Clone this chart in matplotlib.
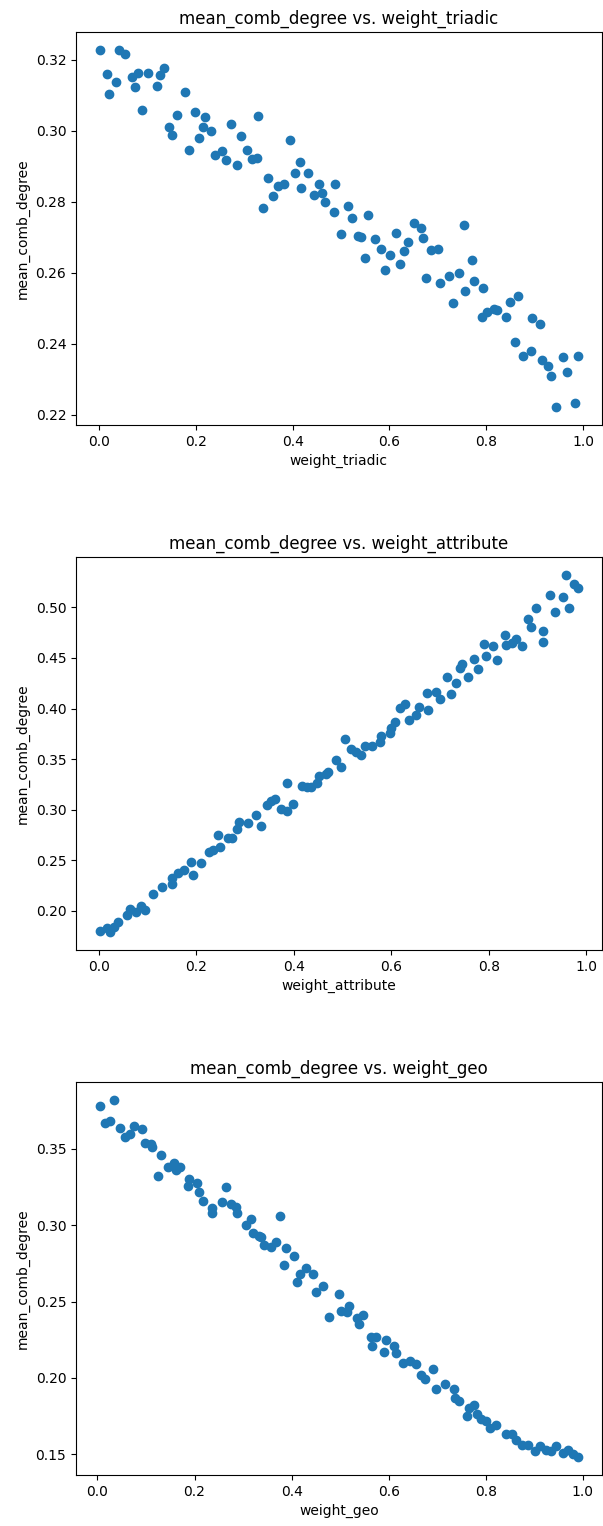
import matplotlib
matplotlib.use("Agg")
import matplotlib.pyplot as plt

# sweep results: mean combined degree against each weight parameter
weight_triadic = [
    0.002, 0.016, 0.020, 0.035, 0.042, 0.054, 0.068, 0.074, 0.081, 0.090,
    0.102, 0.119, 0.126, 0.134, 0.145, 0.150, 0.161, 0.177, 0.186, 0.198,
    0.206, 0.214, 0.220, 0.231, 0.239, 0.255, 0.262, 0.272, 0.286, 0.294,
    0.305, 0.316, 0.327, 0.328, 0.338, 0.349, 0.360, 0.369, 0.383, 0.395,
    0.404, 0.415, 0.417, 0.432, 0.445, 0.455, 0.460, 0.467, 0.487, 0.486,
    0.500, 0.515, 0.523, 0.535, 0.542, 0.550, 0.556, 0.570, 0.583, 0.590,
    0.602, 0.614, 0.621, 0.629, 0.638, 0.650, 0.665, 0.669, 0.676, 0.686,
    0.701, 0.704, 0.722, 0.731, 0.744, 0.753, 0.755, 0.770, 0.775, 0.794,
    0.792, 0.801, 0.815, 0.822, 0.840, 0.848, 0.866, 0.860, 0.876, 0.892,
    0.895, 0.911, 0.914, 0.928, 0.934, 0.943, 0.958, 0.967, 0.982, 0.989,
]
degree_triadic = [
    0.3228, 0.3160, 0.3104, 0.3138, 0.3228, 0.3216, 0.3153, 0.3124, 0.3164, 0.3059,
    0.3164, 0.3127, 0.3157, 0.3178, 0.3012, 0.2989, 0.3045, 0.3108, 0.2947, 0.3052,
    0.2981, 0.3012, 0.3040, 0.3000, 0.2932, 0.2944, 0.2919, 0.3019, 0.2905, 0.2984,
    0.2947, 0.2921, 0.2924, 0.3042, 0.2782, 0.2866, 0.2815, 0.2844, 0.2850, 0.2974,
    0.2880, 0.2913, 0.2839, 0.2880, 0.2819, 0.2851, 0.2824, 0.2800, 0.2851, 0.2770,
    0.2710, 0.2787, 0.2755, 0.2703, 0.2700, 0.2642, 0.2764, 0.2696, 0.2668, 0.2608,
    0.2651, 0.2713, 0.2625, 0.2660, 0.2686, 0.2741, 0.2727, 0.2698, 0.2585, 0.2663,
    0.2666, 0.2572, 0.2590, 0.2516, 0.2599, 0.2734, 0.2550, 0.2635, 0.2578, 0.2558,
    0.2475, 0.2489, 0.2497, 0.2494, 0.2475, 0.2517, 0.2534, 0.2405, 0.2365, 0.2381,
    0.2473, 0.2455, 0.2353, 0.2337, 0.2308, 0.2222, 0.2363, 0.2320, 0.2233, 0.2365,
]

weight_attribute = [
    0.002, 0.016, 0.022, 0.031, 0.039, 0.057, 0.063, 0.076, 0.086, 0.094,
    0.110, 0.129, 0.149, 0.150, 0.162, 0.174, 0.188, 0.194, 0.210, 0.226,
    0.234, 0.249, 0.245, 0.264, 0.273, 0.284, 0.287, 0.305, 0.322, 0.333,
    0.345, 0.353, 0.362, 0.374, 0.387, 0.385, 0.399, 0.416, 0.427, 0.436,
    0.448, 0.452, 0.467, 0.470, 0.486, 0.496, 0.505, 0.518, 0.528, 0.538,
    0.547, 0.560, 0.576, 0.579, 0.597, 0.600, 0.608, 0.617, 0.628, 0.636,
    0.651, 0.656, 0.675, 0.673, 0.692, 0.700, 0.714, 0.723, 0.733, 0.742,
    0.746, 0.758, 0.769, 0.779, 0.791, 0.794, 0.809, 0.816, 0.833, 0.835,
    0.847, 0.857, 0.868, 0.881, 0.886, 0.896, 0.912, 0.911, 0.926, 0.935,
    0.952, 0.958, 0.965, 0.976, 0.983,
]
degree_attribute = [
    0.180, 0.183, 0.179, 0.184, 0.189, 0.196, 0.202, 0.199, 0.205, 0.201,
    0.217, 0.224, 0.227, 0.232, 0.237, 0.240, 0.248, 0.235, 0.247, 0.258,
    0.260, 0.263, 0.275, 0.272, 0.272, 0.281, 0.288, 0.287, 0.295, 0.284,
    0.305, 0.309, 0.311, 0.301, 0.299, 0.326, 0.306, 0.323, 0.322, 0.322,
    0.326, 0.333, 0.335, 0.337, 0.349, 0.342, 0.370, 0.360, 0.357, 0.354,
    0.363, 0.363, 0.367, 0.373, 0.376, 0.381, 0.387, 0.401, 0.404, 0.389,
    0.394, 0.402, 0.399, 0.415, 0.416, 0.409, 0.431, 0.414, 0.425, 0.440,
    0.444, 0.431, 0.449, 0.439, 0.464, 0.452, 0.462, 0.448, 0.473, 0.463,
    0.465, 0.469, 0.462, 0.489, 0.481, 0.499, 0.477, 0.466, 0.512, 0.495,
    0.510, 0.532, 0.499, 0.523, 0.519,
]

weight_geo = [
    0.005, 0.015, 0.026, 0.035, 0.047, 0.056, 0.068, 0.076, 0.092, 0.098,
    0.110, 0.112, 0.125, 0.131, 0.145, 0.157, 0.162, 0.171, 0.187, 0.189,
    0.206, 0.210, 0.218, 0.236, 0.237, 0.257, 0.264, 0.276, 0.285, 0.288,
    0.306, 0.317, 0.320, 0.333, 0.337, 0.344, 0.357, 0.367, 0.377, 0.384,
    0.388, 0.404, 0.411, 0.418, 0.429, 0.445, 0.451, 0.464, 0.477, 0.497,
    0.501, 0.514, 0.518, 0.535, 0.538, 0.548, 0.563, 0.566, 0.575, 0.591,
    0.595, 0.611, 0.615, 0.630, 0.644, 0.657, 0.667, 0.674, 0.691, 0.697,
    0.716, 0.734, 0.737, 0.744, 0.761, 0.766, 0.775, 0.783, 0.790, 0.801,
    0.809, 0.822, 0.841, 0.855, 0.862, 0.874, 0.887, 0.901, 0.911, 0.924,
    0.935, 0.945, 0.959, 0.969, 0.980, 0.990,
]
degree_geo = [
    0.378, 0.367, 0.368, 0.382, 0.364, 0.358, 0.360, 0.365, 0.363, 0.354,
    0.353, 0.351, 0.332, 0.346, 0.338, 0.341, 0.336, 0.338, 0.326, 0.330,
    0.328, 0.322, 0.316, 0.308, 0.311, 0.315, 0.325, 0.314, 0.312, 0.308,
    0.300, 0.304, 0.295, 0.293, 0.292, 0.287, 0.286, 0.289, 0.306, 0.274,
    0.285, 0.280, 0.263, 0.268, 0.272, 0.268, 0.256, 0.260, 0.240, 0.255,
    0.244, 0.243, 0.247, 0.239, 0.235, 0.241, 0.227, 0.221, 0.227, 0.217,
    0.225, 0.221, 0.216, 0.210, 0.211, 0.209, 0.202, 0.199, 0.206, 0.193,
    0.196, 0.193, 0.187, 0.185, 0.175, 0.180, 0.182, 0.176, 0.173, 0.172,
    0.167, 0.169, 0.163, 0.163, 0.159, 0.156, 0.156, 0.152, 0.155, 0.153,
    0.152, 0.155, 0.151, 0.153, 0.150, 0.148,
]

panels = [
    ("weight_triadic", weight_triadic, degree_triadic),
    ("weight_attribute", weight_attribute, degree_attribute),
    ("weight_geo", weight_geo, degree_geo),
]

fig, axes = plt.subplots(3, 1, figsize=(6.03, 15.26), dpi=100)
fig.subplots_adjust(left=0.126, right=0.998, top=0.979, bottom=0.0334, hspace=0.337)

for ax, (name, x, y) in zip(axes, panels):
    ax.scatter(x, y)
    ax.set_title(f"mean_comb_degree vs. {name}")
    ax.set_xlabel(name)
    ax.set_ylabel("mean_comb_degree")
    ax.set_xticks([0.0, 0.2, 0.4, 0.6, 0.8, 1.0])

plt.savefig("out.png", dpi=100)
